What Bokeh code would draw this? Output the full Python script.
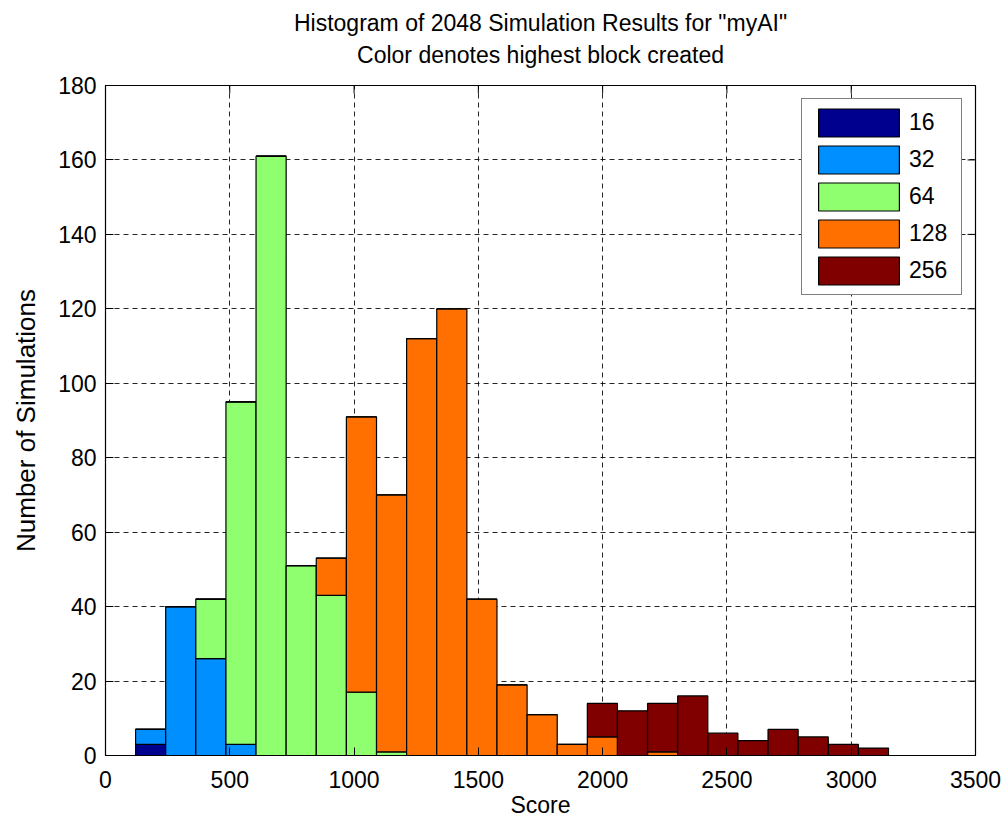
from bokeh.plotting import figure
from bokeh.models import Range1d, FixedTicker, Legend, LegendItem, Title
from bokeh.embed import file_html
from bokeh.resources import INLINE

# ---- data ----
bin_centers = [181.6, 302.7, 423.9, 545.1, 666.2, 787.4, 908.5, 1029.7, 1150.9, 1272.0,
               1393.2, 1514.3, 1635.5, 1756.7, 1877.8, 1999.0, 2120.1, 2241.3, 2362.5, 2483.6,
               2604.8, 2725.9, 2847.1, 2968.3, 3089.4]
bin_width = 121.16
blocks = ["16", "32", "64", "128", "256"]
count_16 = [3, 0, 0, 0, 0, 0, 0, 0, 0, 0, 0, 0, 0, 0, 0, 0, 0, 0, 0, 0, 0, 0, 0, 0, 0]
count_32 = [4, 40, 26, 3, 0, 0, 0, 0, 0, 0, 0, 0, 0, 0, 0, 0, 0, 0, 0, 0, 0, 0, 0, 0, 0]
count_64 = [0, 0, 16, 92, 161, 51, 43, 17, 1, 0, 0, 0, 0, 0, 0, 0, 0, 0, 0, 0, 0, 0, 0, 0, 0]
count_128 = [0, 0, 0, 0, 0, 0, 10, 74, 69, 112, 120, 42, 19, 11, 3, 5, 0, 1, 0, 0, 0, 0, 0, 0, 0]
count_256 = [0, 0, 0, 0, 0, 0, 0, 0, 0, 0, 0, 0, 0, 0, 0, 9, 12, 13, 16, 6, 4, 7, 5, 3, 2]
colors = ["#00008F", "#008FFF", "#8FFF70", "#FF7000", "#800000"]
x_ticks = [0, 500, 1000, 1500, 2000, 2500, 3000, 3500]
y_ticks = [0, 20, 40, 60, 80, 100, 120, 140, 160, 180]
x_max, y_max = 3500, 180
title_line1 = 'Histogram of 2048 Simulation Results for "myAI"'
title_line2 = "Color denotes highest block created"

FONT = "Liberation Sans"

p = figure(width=1004, height=824, x_range=Range1d(0, x_max), y_range=Range1d(0, y_max),
           output_backend="svg", toolbar_location=None,
           min_border_left=105, min_border_right=29, min_border_top=85, min_border_bottom=69)

source = dict(x=bin_centers, **{"c" + b: v for b, v in
              zip(blocks, [count_16, count_32, count_64, count_128, count_256])})
renderers = p.vbar_stack(["c" + b for b in blocks], x="x", width=bin_width, source=source,
                         fill_color=colors, line_color="black", line_width=1.2)

legend = Legend(items=[LegendItem(label=b, renderers=[r]) for b, r in zip(blocks, renderers)],
                location="top_right", margin=13, padding=6, spacing=2,
                glyph_width=101, glyph_height=35, label_height=35, label_width=46,
                label_standoff=0, label_text_font=FONT, label_text_font_size="23px",
                label_text_color="black", border_line_color="black", border_line_width=1.2,
                background_fill_alpha=1.0)
p.add_layout(legend, "center")

p.outline_line_color = "black"
p.outline_line_width = 1.2

for ax in (p.xaxis[0], p.yaxis[0]):
    ax.major_tick_in = 8
    ax.major_tick_out = 0
    ax.minor_tick_line_color = None
    ax.axis_line_color = "black"
    ax.major_tick_line_color = "black"
    ax.major_label_text_font = FONT
    ax.major_label_text_font_size = "23px"
    ax.major_label_text_color = "black"
    ax.axis_label_text_font = FONT
    ax.axis_label_text_font_style = "normal"
    ax.axis_label_text_color = "black"
p.xaxis[0].ticker = FixedTicker(ticks=x_ticks)
p.yaxis[0].ticker = FixedTicker(ticks=y_ticks)
p.xaxis[0].major_label_standoff = 15
p.yaxis[0].major_label_standoff = 9
p.xaxis[0].axis_label = "Score"
p.xaxis[0].axis_label_text_font_size = "23px"
p.xaxis[0].axis_label_standoff = 1
p.yaxis[0].axis_label = "Number of Simulations"
p.yaxis[0].axis_label_text_font_size = "26px"
p.yaxis[0].axis_label_standoff = 14

# inward ticks on the right and top edges of the box
tick_len_x = x_max * 8 / 870
tick_len_y = y_max * 8 / 670
p.segment(x0=[x_max] * len(y_ticks), x1=[x_max - tick_len_x] * len(y_ticks),
          y0=y_ticks, y1=y_ticks, line_color="black", line_width=1)
p.segment(x0=x_ticks, x1=x_ticks, y0=[y_max] * len(x_ticks),
          y1=[y_max - tick_len_y] * len(x_ticks), line_color="black", line_width=1)

p.xgrid.ticker = FixedTicker(ticks=x_ticks)
p.ygrid.ticker = FixedTicker(ticks=y_ticks)
for g in (p.xgrid[0], p.ygrid[0]):
    g.grid_line_color = "black"
    g.grid_line_dash = "5 4"
    g.grid_line_width = 1
    g.grid_line_alpha = 0.85

# two-line title (first added sits nearest the plot)
p.add_layout(Title(text=title_line2, align="center", vertical_align="top",
                   text_font=FONT, text_font_size="23px", text_font_style="normal",
                   text_color="black", standoff=29.5), "above")
p.add_layout(Title(text=title_line1, align="center", vertical_align="bottom",
                   text_font=FONT, text_font_size="23px", text_font_style="normal",
                   text_color="black", standoff=-16.5), "above")

open("out.html", "w").write(file_html(p, INLINE))
